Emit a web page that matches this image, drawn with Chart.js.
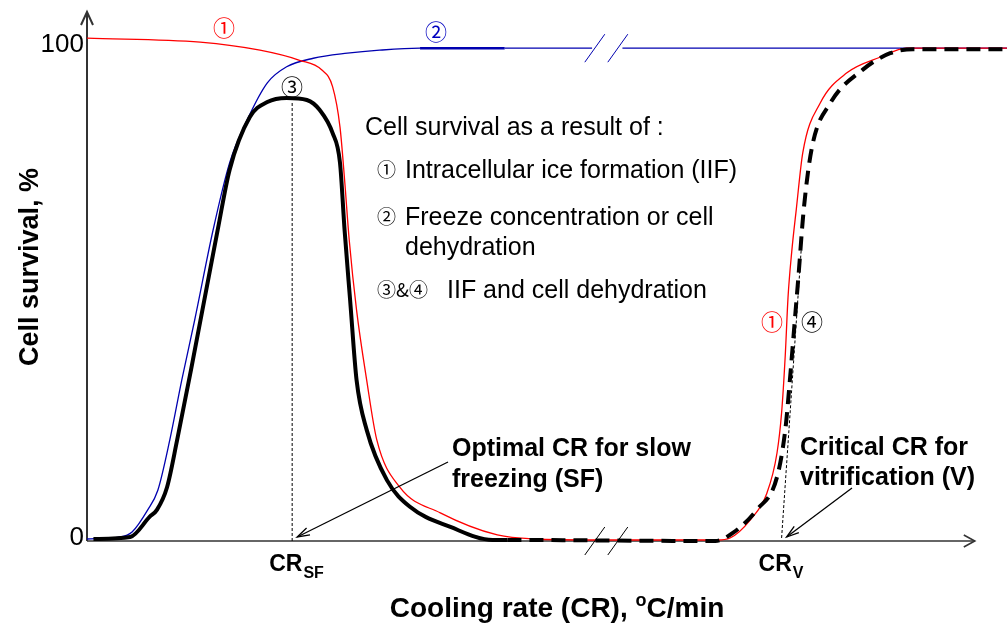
<!DOCTYPE html>
<html>
<head>
<meta charset="utf-8">
<script src="https://cdn.jsdelivr.net/npm/chart.js@4.4.1/dist/chart.umd.min.js"></script>
<style>
  html, body { margin: 0; padding: 0; background: #fff; }
  #wrap { width: 1008px; height: 628px; }
</style>
</head>
<body>
<div id="wrap"><canvas id="chart" width="1008" height="628"></canvas></div>
<script>
// ─────────────────────────────────────────────
//  DATA  (x = cooling rate, schematic units 0-100 ; y = cell survival %)
// ─────────────────────────────────────────────

// ① intracellular ice formation (red)
const iifX = [0, 12.3, 18.8, 23.1, 25.5, 26.7, 27.5, 28.0, 28.5, 29.3, 30.4, 31.5, 34.0, 38.4, 44.6, 48.5, 55.8,
  68.5, 69.9, 72.1, 73.9, 75.0, 75.5, 75.9, 76.2, 76.6, 77.1, 77.8, 79.7, 82.6, 86.2, 89.1, 100];
const iifY = [100, 99.2, 97.6, 95.6, 93.7, 90.3, 82.3, 71.8, 59.9, 45.9, 32.0, 20.1, 10.7, 5.6, 1.2, 0.4, 0.2,
  0.2, 0.6, 4.2, 9.5, 17.5, 25.5, 37.0, 48.5, 57.5, 66.0, 77.2, 87.1, 93.1, 96.2, 98.0, 98.0];

// ② freeze concentration / dehydration (blue) - null = axis break
const dehX = [0, 3.6, 4.9, 6.6, 7.7, 9.0, 10.3, 11.7, 13.7, 15.5, 17.4, 19.6, 21.7, 24.6, 28.3, 31.8, 36.2, 45.4, 54.9, 56.5, 58.2, 100];
const dehY = [0.4, 0.8, 1.8, 6.2, 10.1, 20.1, 32.0, 43.9, 61.8, 75.2, 83.7, 91.1, 94.3, 96.0, 97.0, 97.6, 98.0, 98.0, 98.0, null, 98.0, 98.0];

// ③&④ combined (black)
const combX = [0.7, 4.7, 6.8, 7.6, 8.7, 9.8, 11.3, 14.2, 15.5, 17.7, 19.6, 21.7, 23.9, 25.3, 26.7, 27.5, 28.0, 28.6,
  29.3, 30.4, 32.6, 35.1, 39.5, 44.1, 45.7, 68.3, 70.2, 72.8, 75.0, 75.9, 76.4, 77.0, 77.3, 77.9, 78.8, 80.8, 84.3, 87.3, 89.8, 100];
const combY = [0.4, 0.8, 4.8, 6.2, 10.7, 20.1, 34.0, 61.8, 73.8, 84.3, 87.3, 88.1, 87.7, 85.7, 81.1, 75.2, 61.8, 47.9,
  32.0, 22.1, 12.1, 6.8, 2.8, 0.2, 0.2, 0, 1.6, 6.2, 12.7, 22.1, 32.0, 45.3, 51.9, 65.8, 78.3, 87.1, 93.7, 97.0, 97.8, 97.8];
const combDashFrom = 45;   // black curve is dashed beyond this x

// guide lines : optimal CR for slow freezing, critical CR for vitrification
const sfGuideX = [22.3, 22.3];
const sfGuideY = [0, 87.3];
const vGuideX = [75.5, 77.7];
const vGuideY = [0.6, 59.8];

// axis ticks / labels
const yTicks = [0, 100];
const xMarks = [22.3, 75.5];
const xMarkMain = ['CR', 'CR'];
const xMarkSub = ['SF', 'V'];
const xBreak = 56.5;
const xAxisEnd = 96.5;

const notes = ['Cell survival as a result of :', 'Intracellular ice formation (IIF)', 'Freeze concentration or cell', 'dehydration', 'IIF and cell dehydration'];
const noteMarks = ['', '①', '②', '', '③&④'];

const SANS = '"Liberation Sans", Arial, sans-serif';
const CJK = '"Noto Sans CJK JP", "DejaVu Sans", sans-serif';

const pts = (xs, ys) => xs.map((x, i) => ({ x, y: ys[i] }));

// ─────────────────────────────────────────────
//  DRAW HELPERS
// ─────────────────────────────────────────────

function line(ctx, x1, y1, x2, y2) {
  ctx.beginPath();
  ctx.moveTo(x1, y1);
  ctx.lineTo(x2, y2);
  ctx.stroke();
}

function arrow(ctx, x1, y1, x2, y2) {
  const ang = Math.atan2(y2 - y1, x2 - x1);
  line(ctx, x1, y1, x2, y2);
  ctx.beginPath();
  ctx.moveTo(x2 - 13 * Math.cos(ang - 0.3), y2 - 13 * Math.sin(ang - 0.3));
  ctx.lineTo(x2, y2);
  ctx.lineTo(x2 - 13 * Math.cos(ang + 0.3), y2 - 13 * Math.sin(ang + 0.3));
  ctx.stroke();
}

function text(ctx, str, x, y, font, color, align = 'left') {
  ctx.font = font;
  ctx.fillStyle = color;
  ctx.textAlign = align;
  ctx.textBaseline = 'alphabetic';
  ctx.fillText(str, x, y);
}

const schematic = {
  id: 'schematic',
  beforeDatasetsDraw(chart) {
    const { ctx, chartArea: a, scales: { x, y } } = chart;
    const x0 = x.getPixelForValue(0), y0 = y.getPixelForValue(0), xe = x.getPixelForValue(xAxisEnd);
    ctx.save();
    ctx.strokeStyle = '#333';
    ctx.lineWidth = 2;
    // y axis with arrow
    line(ctx, x0, y0, x0, a.top - 1);
    ctx.beginPath();
    ctx.moveTo(x0 - 6, a.top + 12); ctx.lineTo(x0, a.top - 1); ctx.lineTo(x0 + 6, a.top + 12);
    ctx.stroke();
    // x axis with arrow
    ctx.lineWidth = 1.6;
    line(ctx, x0, y0, xe, y0);
    ctx.beginPath();
    ctx.moveTo(xe - 11, y0 - 6); ctx.lineTo(xe, y0); ctx.lineTo(xe - 11, y0 + 6);
    ctx.stroke();
    ctx.restore();
  },
  afterDraw(chart) {
    const { ctx, scales: { x, y } } = chart;
    const x0 = x.getPixelForValue(0), y0 = y.getPixelForValue(0);
    ctx.save();

    // y tick labels
    yTicks.forEach(v => {
      text(ctx, String(v), x0 - 3, y.getPixelForValue(v) + (v === 0 ? 4 : 14), '26px ' + SANS, '#000', 'right');
    });

    // x marks CR_SF / CR_V
    xMarks.forEach((v, i) => {
      const px = x.getPixelForValue(v) - 23;
      text(ctx, xMarkMain[i], px, y0 + 30, 'bold 23px ' + SANS, '#000');
      ctx.font = 'bold 23px ' + SANS;
      const w = ctx.measureText(xMarkMain[i]).width;
      text(ctx, xMarkSub[i], px + w + 1, y0 + 37, 'bold 16px ' + SANS, '#000');
    });

    // axis breaks
    const bx = x.getPixelForValue(xBreak);
    ctx.lineWidth = 1;
    [[y.getPixelForValue(98), '#0000b0'], [y0, '#000']].forEach(([cy, col]) => {
      ctx.strokeStyle = col;
      [-12, 11].forEach(dx => line(ctx, bx + dx - 10, cy + 14, bx + dx + 10, cy - 14));
    });

    // axis titles
    ctx.save();
    ctx.translate(29, 267);
    ctx.rotate(-Math.PI / 2);
    text(ctx, 'Cell survival, %', 0, 9, 'bold 27px ' + SANS, '#000', 'center');
    ctx.restore();

    ctx.font = 'bold 28px ' + SANS;
    const t1 = 'Cooling rate (CR), ', t2 = 'C/min';
    const w1 = ctx.measureText(t1).width, w2 = ctx.measureText(t2).width;
    ctx.font = 'bold 18px ' + SANS;
    const ws = ctx.measureText('o').width;
    let tx = 557 - (w1 + ws + w2) / 2;
    text(ctx, t1, tx, 617, 'bold 28px ' + SANS, '#000');
    text(ctx, 'o', tx + w1, 606, 'bold 18px ' + SANS, '#000');
    text(ctx, t2, tx + w1 + ws, 617, 'bold 28px ' + SANS, '#000');

    // curve markers
    text(ctx, '①', 224, 36, '22px ' + CJK, '#ff0000', 'center');
    text(ctx, '②', 436, 40, '22px ' + CJK, '#0000c0', 'center');
    text(ctx, '③', 292, 95, '22px ' + CJK, '#000', 'center');
    text(ctx, '①', 772, 330, '22px ' + CJK, '#ff0000', 'center');
    text(ctx, '④', 812, 330, '22px ' + CJK, '#000', 'center');

    // legend notes
    const noteY = [135, 178, 225, 255, 298];
    notes.forEach((s, i) => {
      if (i === 0) { text(ctx, s, 365, noteY[i], '25px ' + SANS, '#000'); return; }
      if (noteMarks[i]) text(ctx, noteMarks[i], 377, noteY[i] - 1, '19px ' + CJK, '#000');
      const nx = i === 4 ? 447 : 405;
      text(ctx, s, nx, noteY[i], '25px ' + SANS, '#000');
    });

    // call-outs
    text(ctx, 'Optimal CR for slow', 452, 456, 'bold 25px ' + SANS, '#000');
    text(ctx, 'freezing (SF)', 452, 487, 'bold 25px ' + SANS, '#000');
    text(ctx, 'Critical CR for', 800, 455, 'bold 25px ' + SANS, '#000');
    text(ctx, 'vitrification (V)', 800, 485, 'bold 25px ' + SANS, '#000');
    ctx.strokeStyle = '#000';
    ctx.lineWidth = 1.3;
    arrow(ctx, 448, 462, x.getPixelForValue(xMarks[0]) + 5, y0 - 4);
    arrow(ctx, 852, 488, x.getPixelForValue(xMarks[1]) + 5, y0 - 4);

    ctx.restore();
  }
};

// ─────────────────────────────────────────────
//  CHART
// ─────────────────────────────────────────────

const guide = { borderColor: '#000', borderWidth: 1, borderDash: [3, 2], pointRadius: 0, order: 3, clip: false };

new Chart(document.getElementById('chart'), {
  type: 'line',
  data: {
    datasets: [
      {
        label: '③&④ IIF and cell dehydration',
        data: pts(combX, combY),
        borderColor: '#000',
        borderWidth: 4,
        pointRadius: 0,
        cubicInterpolationMode: 'monotone',
        order: 0,
        clip: false,
        segment: { borderDash: c => c.p0.parsed.x >= combDashFrom ? [14, 8] : undefined }
      },
      {
        label: '① Intracellular ice formation',
        data: pts(iifX, iifY),
        borderColor: '#ff0000',
        borderWidth: 1.3,
        pointRadius: 0,
        cubicInterpolationMode: 'monotone',
        order: 1,
        clip: false
      },
      {
        label: '② Freeze concentration',
        data: pts(dehX, dehY),
        borderColor: '#0000b0',
        borderWidth: 1.3,
        pointRadius: 0,
        cubicInterpolationMode: 'monotone',
        spanGaps: false,
        order: 2,
        clip: false,
        segment: { borderWidth: c => (c.p0.parsed.x >= 36 && c.p1.parsed.x <= 46) ? 2.6 : undefined }
      },
      { label: 'CR_SF', data: pts(sfGuideX, sfGuideY), ...guide },
      { label: 'CR_V', data: pts(vGuideX, vGuideY), ...guide }
    ]
  },
  options: {
    responsive: false,
    animation: false,
    events: [],
    layout: { padding: { left: 87, right: 1, top: 13, bottom: 87 } },
    plugins: { legend: { display: false }, tooltip: { enabled: false } },
    scales: {
      x: { type: 'linear', min: 0, max: 100, display: false },
      y: { type: 'linear', min: 0, max: 105, display: false }
    }
  },
  plugins: [schematic]
});
</script>
</body>
</html>
